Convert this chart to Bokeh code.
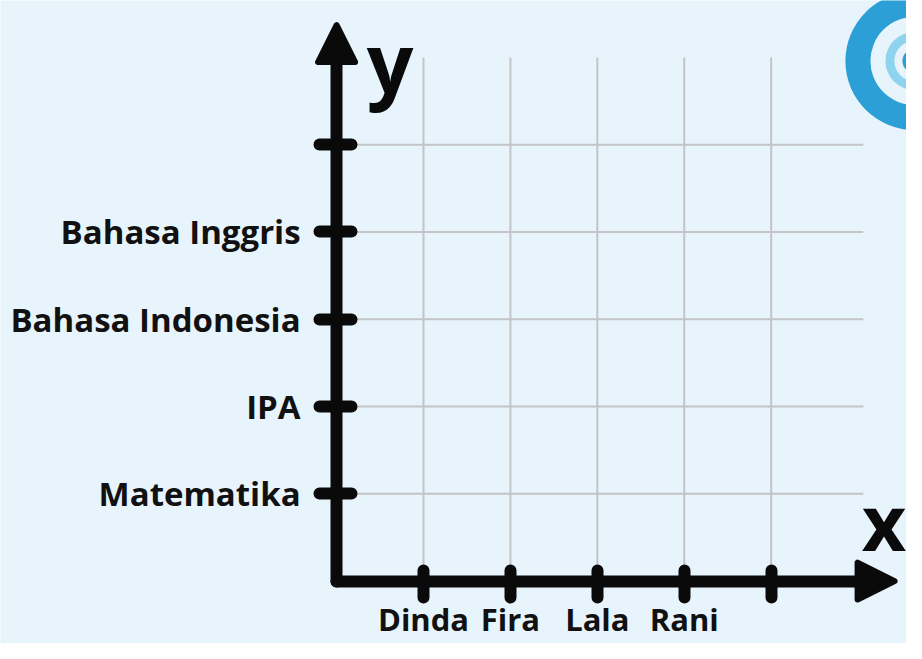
from bokeh.plotting import figure
from bokeh.models import Range1d, FixedTicker, LinearAxis, Arrow, NormalHead, Label
from bokeh.embed import file_html
from bokeh.resources import INLINE

# ---- data ----
students = ["Dinda", "Fira", "Lala", "Rani", ""]
subjects = ["Matematika", "IPA", "Bahasa Indonesia", "Bahasa Inggris", ""]
x_ticks = [1, 2, 3, 4, 5]
y_ticks = [1, 2, 3, 4, 5]

BG = "#e8f4fc"
GRID = "#c2c4c6"
INK = "#0a0a0a"
FONT = "Open Sans"

W, H = 906, 643
p = figure(width=W, height=H, output_backend="svg", toolbar_location=None,
           x_range=Range1d(-3.867, 6.557), y_range=Range1d(-0.715, 6.652),
           x_axis_location=None, y_axis_location=None, min_border=0)
p.outline_line_color = None
p.background_fill_color = BG
p.border_fill_color = BG
p.xgrid.grid_line_color = None
p.ygrid.grid_line_color = None

# logo (decorative rings, top-right)
LX, LY = 6.648, 5.959
p.annulus(x=[LX], y=[LY], inner_radius=44, outer_radius=69,
          inner_radius_units="screen", outer_radius_units="screen",
          fill_color="#2b9fd6", line_color=None)
p.annulus(x=[LX], y=[LY], inner_radius=20, outer_radius=29,
          inner_radius_units="screen", outer_radius_units="screen",
          fill_color="#8fd4ef", line_color=None)
p.annulus(x=[LX], y=[LY], inner_radius=0, outer_radius=12,
          inner_radius_units="screen", outer_radius_units="screen",
          fill_color="#2b9fd6", line_color=None)

# grid lines
n = len(x_ticks)
p.segment(x0=x_ticks, y0=[0] * n, x1=x_ticks, y1=[6.0] * n,
          line_color=GRID, line_width=2)
m = len(y_ticks)
p.segment(x0=[0] * m, y0=y_ticks, x1=[6.06] * m, y1=y_ticks,
          line_color=GRID, line_width=2)

# axes
xaxis = LinearAxis(fixed_location=0, bounds=(0, 6.1),
                   ticker=FixedTicker(ticks=x_ticks, minor_ticks=[]),
                   major_label_overrides={t: s for t, s in zip(x_ticks, students)})
yaxis = LinearAxis(fixed_location=0, bounds=(0, 6.1),
                   ticker=FixedTicker(ticks=y_ticks, minor_ticks=[]),
                   major_label_overrides={t: s for t, s in zip(y_ticks, subjects)})
p.add_layout(xaxis, "below")
p.add_layout(yaxis, "left")
for ax in (xaxis, yaxis):
    ax.axis_line_width = 12
    ax.axis_line_color = INK
    ax.axis_line_cap = "round"
    ax.major_tick_line_width = 12
    ax.major_tick_line_color = INK
    ax.major_tick_line_cap = "round"
    ax.minor_tick_line_color = None
    ax.major_label_text_font = FONT
    ax.major_label_text_font_style = "bold"
    ax.major_label_text_color = "#111111"
xaxis.major_label_text_font_size = "31px"
yaxis.major_label_text_font_size = "33px"
xaxis.major_tick_in = 11
xaxis.major_tick_out = 16
xaxis.major_label_standoff = 1
yaxis.major_tick_in = 15
yaxis.major_tick_out = 17
yaxis.major_label_standoff = 19

# arrow heads
p.add_layout(Arrow(end=NormalHead(size=37, fill_color=INK, line_color=INK,
                                  line_width=6, line_join="round"),
                   x_start=0, y_start=6.0, x_end=0, y_end=6.37,
                   line_alpha=0, line_width=1))
p.add_layout(Arrow(end=NormalHead(size=37, fill_color=INK, line_color=INK,
                                  line_width=6, line_join="round"),
                   x_start=6.0, y_start=0, x_end=6.42, y_end=0,
                   line_alpha=0, line_width=1))

# axis names
p.add_layout(Label(x=0.616, y=6.606, text="y", text_font=FONT,
                   text_font_size="82px", text_font_style="bold",
                   text_align="center", text_baseline="top",
                   text_color=INK))
p.add_layout(Label(x=6.297, y=0.683, text="x", text_font=FONT,
                   text_font_size="77px", text_font_style="bold",
                   text_align="center", text_baseline="alphabetic",
                   text_color=INK))

open("out.html", "w").write(file_html(p, INLINE))
